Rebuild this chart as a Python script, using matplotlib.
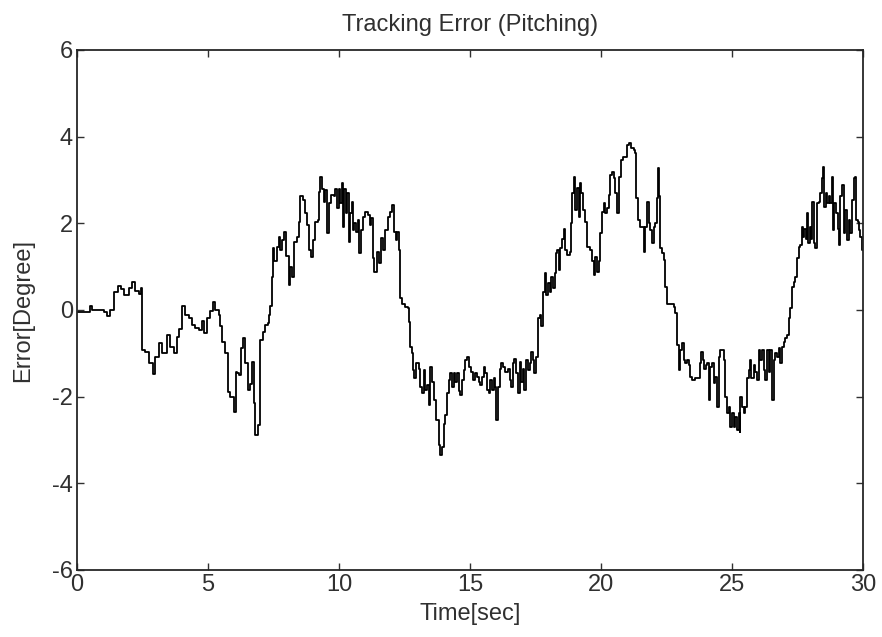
import numpy as np
import matplotlib
matplotlib.use("Agg")
import matplotlib.pyplot as plt

# Pitch tracking error samples: time [sec] and error [deg]
time_s = [
    0.00, 0.38, 0.48, 0.57, 1.02, 1.15, 1.27, 1.40, 1.42, 1.55, 1.68, 1.78, 1.97, 2.10, 2.23, 2.35,
    2.44, 2.48, 2.61, 2.74, 2.90, 2.96, 3.12, 3.24, 3.44, 3.56, 3.69, 3.82, 3.88, 4.01, 4.14, 4.26,
    4.39, 4.52, 4.64, 4.77, 4.86, 4.96, 5.09, 5.19, 5.28, 5.41, 5.47, 5.53, 5.66, 5.75, 5.85, 5.98,
    6.08,
    6.11, 6.17, 6.26, 6.34, 6.42, 6.51, 6.59, 6.68, 6.74, 6.81, 6.90, 6.97, 7.00, 7.10, 7.19, 7.28,
    7.33, 7.38, 7.43, 7.48, 7.53, 7.63, 7.70, 7.76, 7.82, 7.91, 7.99, 8.08, 8.14, 8.21, 8.30, 8.40,
    8.46, 8.52, 8.63, 8.72, 8.78, 8.84, 8.93, 9.01, 9.10, 9.19, 9.22, 9.29, 9.35, 9.41, 9.48, 9.54,
    9.61, 9.70, 9.80, 9.86, 9.92, 9.99, 10.05, 10.13, 10.15, 10.20, 10.27, 10.31, 10.37, 10.43,
    10.50, 10.53, 10.59, 10.66, 10.71, 10.76, 10.84, 10.92, 11.01, 11.09, 11.17, 11.22, 11.30,
    11.35, 11.45, 11.51, 11.60, 11.68, 11.77, 11.86, 11.96, 12.04, 12.11, 12.19,
    12.21, 12.28, 12.32, 12.34, 12.40, 12.53, 12.62, 12.66, 12.72, 12.79, 12.82, 12.88, 12.95,
    13.04, 13.11, 13.17, 13.23, 13.30, 13.36, 13.42, 13.49, 13.55, 13.64, 13.72, 13.80, 13.87,
    13.93, 13.99, 14.06, 14.12, 14.19, 14.25, 14.31, 14.38, 14.44, 14.50, 14.57, 14.63, 14.69,
    14.76, 14.82, 14.89, 14.95, 15.04, 15.12, 15.20, 15.27, 15.33, 15.39, 15.46, 15.52, 15.59,
    15.65, 15.71, 15.78, 15.84, 15.90, 15.97, 16.01, 16.06, 16.13, 16.18, 16.26, 16.35, 16.44,
    16.51, 16.57, 16.64, 16.69, 16.77, 16.82, 16.90, 16.95, 17.02, 17.07, 17.15, 17.20, 17.28,
    17.33, 17.41, 17.46, 17.53, 17.58, 17.66, 17.71, 17.79, 17.86, 17.91, 17.96, 18.04, 18.09,
    18.17, 18.25, 18.30,
    18.32, 18.38, 18.45, 18.51, 18.58, 18.64, 18.70, 18.80, 18.86, 18.91, 18.96, 19.02, 19.08,
    19.15, 19.19, 19.24, 19.31, 19.40, 19.47, 19.57, 19.66, 19.72, 19.78, 19.85, 19.91, 19.98,
    20.04, 20.10, 20.17, 20.23, 20.29, 20.36, 20.42, 20.48, 20.55, 20.61, 20.67, 20.76, 20.84,
    20.93, 20.99, 21.06, 21.15, 21.25, 21.31, 21.35, 21.40, 21.48, 21.57, 21.63, 21.69, 21.76,
    21.82, 21.88, 21.95, 22.01, 22.07, 22.14, 22.18, 22.23, 22.27, 22.33, 22.39, 22.46, 22.52,
    22.65, 22.77, 22.84, 22.90, 22.96, 23.03, 23.09, 23.16, 23.22, 23.28, 23.35, 23.41, 23.47,
    23.60, 23.69, 23.77, 23.82, 23.89, 23.94, 24.02,
    24.05, 24.11, 24.17, 24.24, 24.30, 24.36, 24.43, 24.49, 24.55, 24.62, 24.68, 24.75, 24.81,
    24.87, 24.94, 25.00, 25.06, 25.13, 25.19, 25.25, 25.29, 25.32, 25.38, 25.45, 25.51, 25.57,
    25.64, 25.67, 25.74, 25.83, 25.89, 25.95, 26.02, 26.08, 26.15, 26.21, 26.27, 26.34, 26.40,
    26.46, 26.53, 26.59, 26.65, 26.72, 26.78, 26.85, 26.91, 26.97, 27.04, 27.10, 27.16, 27.23,
    27.29, 27.35, 27.42, 27.48, 27.55, 27.61, 27.67, 27.71, 27.76, 27.81, 27.86, 27.90, 27.96,
    28.02, 28.07, 28.12, 28.18, 28.25, 28.31, 28.37, 28.44, 28.47, 28.52, 28.58, 28.63, 28.69,
    28.75, 28.82, 28.86, 28.91, 28.98, 29.03, 29.08, 29.14, 29.20, 29.26, 29.33, 29.39, 29.45,
    29.52, 29.58, 29.64, 29.70, 29.75, 29.80, 29.85, 29.90, 29.96, 30.00,
]

error_deg = [
    -0.04, -0.04, 0.09, 0.00, -0.05, -0.14, 0.00, 0.00, 0.42, 0.55, 0.48, 0.35, 0.50, 0.65, 0.45, 0.38,
    0.50, -0.92, -0.96, -1.23, -1.48, -1.08, -0.77, -1.00, -0.58, -0.85, -1.00, -0.63, -0.44, 0.09, -0.11, -0.19,
    -0.34, -0.42, -0.45, -0.26, -0.53, -0.19, -0.03, 0.19, 0.00, -0.11, -0.38, -0.73, -1.00, -1.90, -2.00, -2.35,
    -1.42,
    -1.46, -1.50, -0.88, -0.65, -1.22, -1.85, -1.70, -1.20, -2.15, -2.88, -2.65, -2.08, -0.69, -0.50, -0.35, -0.31,
    -0.12, 0.10, 0.77, 1.43, 1.13, 1.46, 1.69, 1.39, 1.62, 1.81, 1.24, 0.58, 1.00, 0.77, 1.58, 1.69,
    2.04, 2.62, 2.54, 2.23, 1.96, 1.38, 1.23, 1.62, 2.04, 2.08, 2.73, 3.08, 2.80, 2.50, 2.77, 1.77,
    2.46, 2.65, 2.62, 2.80, 2.35, 2.80, 2.46, 2.92, 1.92, 2.80, 2.23, 2.70, 1.58, 2.23,
    2.50, 1.85, 2.00, 1.81, 2.08, 1.31, 1.85, 2.15, 2.27, 2.20, 1.96, 2.12, 1.19,
    0.88, 1.35, 1.08, 1.66, 1.39, 1.85, 2.15, 2.27, 2.42, 1.81, 1.62,
    1.81, 1.38, 0.85, 0.27, 0.15, 0.08, 0.04, -0.27, -0.85, -1.00, -1.38, -1.58, -1.23,
    -1.35, -1.77, -1.92, -1.38, -1.85, -1.73, -2.19, -1.31, -1.65, -2.08, -2.54, -3.12, -3.35,
    -3.15, -2.62, -2.42, -1.92, -1.62, -1.46, -1.77, -1.46, -1.65, -1.46, -1.88, -1.96, -1.62,
    -1.38, -1.15, -1.08, -1.31, -1.42, -1.62, -1.46, -1.54, -1.65, -1.73, -1.54, -1.31, -1.46,
    -1.85, -1.92, -1.62, -1.85, -1.58, -1.77, -2.54, -1.77, -1.35, -1.23, -1.31, -1.42, -1.35,
    -1.62, -1.77, -1.23, -1.12, -1.46, -1.92, -1.19, -1.65, -1.35, -1.85, -1.15, -1.38, -1.23,
    -0.96, -1.15, -1.46, -1.08, -0.19, -0.12, -0.38, 0.42, 0.85, 0.35, 0.62, 0.42, 0.77,
    0.50, 0.85, 1.31,
    1.38, 0.92, 1.42, 1.65, 1.88, 1.38, 1.27, 1.35, 2.00, 2.69, 3.08, 2.31, 2.81,
    2.15, 2.92, 2.69, 2.31, 2.04, 1.46, 1.38, 1.12, 0.81, 1.23, 0.88, 1.12, 1.77,
    2.27, 2.46, 2.23, 2.35, 2.65, 3.12, 3.19, 3.04, 2.69, 2.23, 3.08, 3.46, 3.54,
    3.54, 3.81, 3.85, 3.73, 3.69, 3.62, 2.58, 2.08, 1.92, 1.92, 1.35, 1.92, 2.50,
    2.00, 1.85, 1.54, 1.92, 2.00, 2.58, 3.27, 2.62, 1.42, 1.31, 1.15, 0.54, 0.15,
    0.15, 0.08, -0.08, -0.81, -1.38, -0.92, -0.77, -1.15, -1.23, -1.15, -1.27, -1.54, -1.62,
    -1.58, -1.58, -1.23, -0.96, -1.15, -1.35, -1.27,
    -1.23, -2.08, -1.31, -1.23, -1.69, -1.54, -2.23, -1.08, -0.92, -0.92, -1.15, -2.00, -2.38,
    -2.23, -2.69, -2.38, -2.69, -2.46, -2.77, -2.38, -2.81, -2.00, -2.23, -2.38, -2.23, -1.58,
    -1.38, -1.15, -1.58, -1.27, -1.42, -1.62, -0.92, -1.15, -0.92, -1.38, -1.62, -0.92, -1.42,
    -0.92, -2.08, -1.15, -1.00, -1.08, -0.88, -1.23, -0.85, -0.73, -0.65, -0.58, -0.19, 0.04,
    0.54, 0.65, 0.77, 1.19, 1.46, 1.50, 1.92, 1.69, 1.88, 1.65, 2.23, 1.54, 1.92,
    1.65, 2.50, 1.54, 1.42, 2.46, 2.50, 2.69, 3.04, 3.31, 2.38, 2.69, 2.46, 2.62,
    2.46, 3.08, 1.85, 2.46, 2.23, 1.88, 1.50, 2.62, 2.88, 1.77, 2.31, 1.62, 2.08,
    1.77, 2.54, 3.04, 3.08, 2.08, 2.04, 1.85, 1.69, 1.38, 1.38,
]

x_ticks = [0, 5, 10, 15, 20, 25, 30]
y_ticks = [-6, -4, -2, 0, 2, 4, 6]

plt.rcParams['font.family'] = ['Liberation Sans', 'DejaVu Sans']
plt.rcParams['axes.unicode_minus'] = False

fig = plt.figure(figsize=(8.82, 6.37), dpi=100)
ax = fig.add_axes([77 / 882, 67 / 637, 786 / 882, 520 / 637])

ax.plot(time_s, error_deg, color='black', linewidth=1.3, drawstyle='steps-post')

ax.set_xlim(0, 30)
ax.set_ylim(-6, 6)
ax.set_xticks(x_ticks)
ax.set_yticks(y_ticks)

# MATLAB-like box: inward ticks on all four sides
txt_col = '#303030'
ax.tick_params(direction='in', length=5, width=1.0, top=True, right=True,
               labelsize=17, colors=txt_col, pad=3)
for sp in ax.spines.values():
    sp.set_linewidth(1.3)
    sp.set_color('#262626')

ax.set_title('Tracking Error (Pitching)', fontsize=17, color=txt_col, pad=14)
ax.set_xlabel('Time[sec]', fontsize=17, color=txt_col, labelpad=5)
ax.set_ylabel('Error[Degree]', fontsize=17, color=txt_col, labelpad=13)

fig.savefig('out.png', dpi=100)
